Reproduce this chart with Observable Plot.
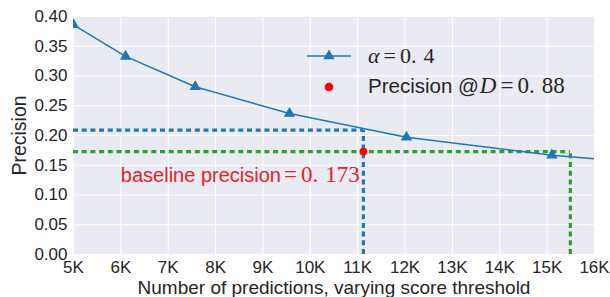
<!DOCTYPE html>
<html><head><meta charset="utf-8">
<script src="https://cdn.jsdelivr.net/npm/d3@7"></script>
<script src="https://cdn.jsdelivr.net/npm/@observablehq/plot@0.6"></script>
<style>
html,body{margin:0;padding:0;background:#fff;}
svg{overflow:visible;}
</style>
</head><body><div id="chart"></div>
<script>
// ---- data ----
const xTicks = [5000, 6000, 7000, 8000, 9000, 10000, 11000, 12000, 13000, 14000, 15000, 16000];
const xTickLabels = ["5K", "6K", "7K", "8K", "9K", "10K", "11K", "12K", "13K", "14K", "15K", "16K"];
const yTicks = [0, 0.05, 0.1, 0.15, 0.2, 0.25, 0.3, 0.35, 0.4];
const yTickLabels = ["0.00", "0.05", "0.10", "0.15", "0.20", "0.25", "0.30", "0.35", "0.40"];

const curveN = [5000, 6100, 7570, 9560, 12030, 15100, 16000];
const curvePrecision = [0.386, 0.333, 0.282, 0.237, 0.197, 0.167, 0.161];
const markerN = [5000, 6100, 7570, 9560, 12030, 15100];
const markerPrecision = [0.386, 0.333, 0.282, 0.237, 0.197, 0.167];

const guideN = [11120, 15490];
const guidePrecision = [0.209, 0.173];
const guideColors = ["#1f77b4", "#2ca02c"];

const pointN = [11120];
const pointPrecision = [0.173];

const annotationN = [6000];
const annotationPrecision = [0.133];
const annotationText = ["baseline precision"];
const annotationMath = ["=", "0.", "173"];

const legendLabels = ["α", "=", "0.", "4"];
const legendLabel2 = ["Precision @", "D", "=", "0.", "88"];

const xLabel = "Number of predictions, varying score threshold";
const yLabel = "Precision";

// ---- tables ----
const curve = curveN.map((n, i) => ({n, p: curvePrecision[i]}));
const markers = markerN.map((n, i) => ({n, p: markerPrecision[i]}));
const guides = guideN.map((n, i) => ({n, p: guidePrecision[i], c: guideColors[i]}));
const points = pointN.map((n, i) => ({n, p: pointPrecision[i]}));
const annotations = annotationN.map((n, i) => ({n, p: annotationPrecision[i], t: annotationText[i]}));

const blue = "#1f77b4", red = "#e3242b";
const xDomain = [5000, 16000];
const serif = "'Liberation Serif', serif";

const chart = Plot.plot({
  width: 610, height: 297,
  marginTop: 16, marginRight: 16, marginBottom: 43, marginLeft: 73,
  style: {fontFamily: "'Liberation Sans', Arial, sans-serif", fontSize: "17px", color: "#262626", background: "#fff", overflow: "visible"},
  x: {domain: xDomain, label: null},
  y: {domain: [0, 0.4], label: null},
  marks: [
    Plot.frame({fill: "#EAEAF2", stroke: null}),
    Plot.gridX(xTicks, {stroke: "#fff", strokeOpacity: 1, strokeWidth: 1}),
    Plot.gridY(yTicks, {stroke: "#fff", strokeOpacity: 1, strokeWidth: 1}),
    Plot.axisX(xTicks, {tickSize: 0, tickPadding: 6.5, fontSize: 17, label: null,
      tickFormat: d => xTickLabels[xTicks.indexOf(d)]}),
    Plot.axisY(yTicks, {tickSize: 0, tickPadding: 6, fontSize: 17, label: null,
      tickFormat: d => yTickLabels[yTicks.indexOf(d)]}),
    Plot.text([xLabel], {frameAnchor: "bottom", lineAnchor: "top", dy: 26, fontSize: 19, text: d => d, fill: "#262626"}),
    Plot.text([yLabel], {frameAnchor: "left", textAnchor: "middle", rotate: -90, dx: -54, fontSize: 19.5, text: d => d, fill: "#262626"}),
    Plot.ruleY(guides, {y: "p", x1: () => xDomain[0], x2: "n", stroke: "c", strokeWidth: 3.2, strokeDasharray: "5,3.7"}),
    Plot.ruleX(guides, {x: "n", y1: () => 0, y2: "p", stroke: "c", strokeWidth: 3.2, strokeDasharray: "5,3.7"}),
    Plot.line(curve, {x: "n", y: "p", stroke: blue, strokeWidth: 1.5, clip: true}),
    Plot.dot(markers, {x: "n", y: "p", symbol: "triangle", r: 4.2, fill: blue, stroke: null, clip: true}),
    Plot.dot(points, {x: "n", y: "p", r: 3.9, fill: "#ff0000", stroke: null}),
    Plot.text(annotations, {x: "n", y: "p", text: "t", textAnchor: "start", fill: red, fontSize: 20})
  ]
});
document.getElementById("chart").append(chart);

const svg = d3.select(chart);
// mixed-font annotation
svg.selectAll("text").filter(function () { return this.textContent === annotationText[0]; })
  .each(function () {
    const t = d3.select(this);
    t.append("tspan").attr("dx", 3).attr("font-family", serif).attr("font-size", 23).text(annotationMath[0]);
    t.append("tspan").attr("dx", 4).attr("font-family", serif).attr("font-size", 23).text(annotationMath[1]);
    t.append("tspan").attr("dx", 7).attr("font-family", serif).attr("font-size", 23).text(annotationMath[2]);
  });

// legend
const lg = svg.append("g").attr("text-anchor", "start");
lg.append("line").attr("x1", 307).attr("x2", 351).attr("y1", 56).attr("y2", 56).attr("stroke", blue).attr("stroke-width", 1.5);
lg.append("path").attr("transform", "translate(329,56)").attr("d", d3.symbol(d3.symbolTriangle, Math.PI * 4.2 * 4.2)()).attr("fill", blue);
lg.append("circle").attr("cx", 329).attr("cy", 87).attr("r", 4.3).attr("fill", "#ff0000");
const t1 = lg.append("text").attr("x", 368).attr("y", 63.3).attr("fill", "#262626")
  .attr("font-family", serif).attr("font-size", 22);
t1.append("tspan").attr("font-style", "italic").text(legendLabels[0]);
t1.append("tspan").attr("dx", 4).text(legendLabels[1]);
t1.append("tspan").attr("dx", 4).text(legendLabels[2]);
t1.append("tspan").attr("dx", 7).text(legendLabels[3]);
const t2 = lg.append("text").attr("x", 368).attr("y", 93.3).attr("fill", "#262626")
  .attr("font-family", "'Liberation Sans', Arial, sans-serif").attr("font-size", 20.5);
t2.append("tspan").text(legendLabel2[0]);
t2.append("tspan").attr("dx", 1).attr("font-family", serif).attr("font-style", "italic").attr("font-size", 23).text(legendLabel2[1]);
t2.append("tspan").attr("dx", 4).attr("font-family", serif).attr("font-size", 23).text(legendLabel2[2]);
t2.append("tspan").attr("dx", 4).attr("font-family", serif).attr("font-size", 23).text(legendLabel2[3]);
t2.append("tspan").attr("dx", 7).attr("font-family", serif).attr("font-size", 23).text(legendLabel2[4]);
</script>
</body></html>
